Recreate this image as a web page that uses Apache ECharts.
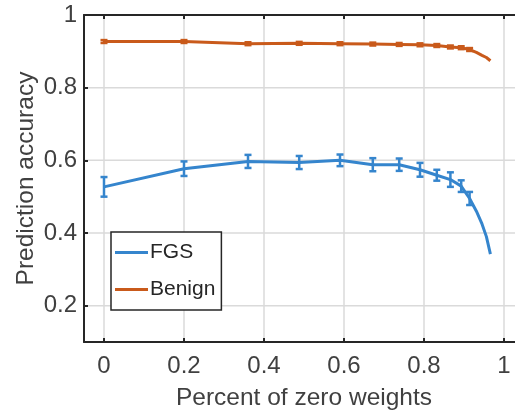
<!DOCTYPE html>
<html>
<head>
<meta charset="utf-8">
<script src="https://cdn.jsdelivr.net/npm/echarts@6/dist/echarts.min.js"></script>
<style>
  html, body { margin: 0; padding: 0; background: #fff; }
  #chart { width: 515px; height: 412px; }
</style>
</head>
<body>
<div id="chart"></div>
<script>
// percent of zero weights
const xs = [0, 0.2, 0.36, 0.488, 0.59, 0.672, 0.738, 0.79, 0.832, 0.866, 0.893, 0.914, 0.931, 0.945, 0.956, 0.966];
const fgs = [0.527, 0.577, 0.597, 0.594, 0.6, 0.588, 0.588, 0.574, 0.559, 0.547, 0.529, 0.495, 0.46, 0.425, 0.39, 0.342];
const fgsErr = [0.027, 0.02, 0.018, 0.018, 0.016, 0.018, 0.017, 0.019, 0.015, 0.02, 0.016, 0.018, null, null, null, null];
const benign = [0.927, 0.927, 0.921, 0.922, 0.921, 0.92, 0.919, 0.918, 0.916, 0.912, 0.91, 0.905, 0.897, 0.889, 0.883, 0.874];
const benignErr = [0.004, 0.004, 0.004, 0.004, 0.004, 0.004, 0.004, 0.004, 0.004, 0.004, 0.004, 0.004, null, null, null, null];
const xTicks = [0, 0.2, 0.4, 0.6, 0.8, 1];
const yTicks = [0.2, 0.4, 0.6, 0.8, 1];

const BLUE = "#3585cd";
const ORANGE = "#c95a1b";
const INK = "#262626";
const GRIDC = "#dadada";
const FONT = "Liberation Sans, Arial, sans-serif";

function pairs(ys) {
  return xs.map((x, i) => [x, ys[i]]);
}

function errData(ys, errs) {
  const out = [];
  xs.forEach((x, i) => {
    if (errs[i] != null) out.push([x, ys[i] - errs[i], ys[i] + errs[i]]);
  });
  return out;
}

function errSeries(ys, errs, color) {
  return {
    type: "custom",
    silent: true,
    z: 4,
    data: errData(ys, errs),
    renderItem(params, api) {
      const lo = api.coord([api.value(0), api.value(1)]);
      const hi = api.coord([api.value(0), api.value(2)]);
      const w = 3.5;
      const style = { stroke: color, lineWidth: 2.5, fill: null };
      return {
        type: "group",
        children: [
          { type: "line", shape: { x1: lo[0], y1: lo[1], x2: hi[0], y2: hi[1] }, style },
          { type: "line", shape: { x1: lo[0] - w, y1: lo[1], x2: lo[0] + w, y2: lo[1] }, style },
          { type: "line", shape: { x1: hi[0] - w, y1: hi[1], x2: hi[0] + w, y2: hi[1] }, style }
        ]
      };
    }
  };
}

// horizontal grid lines at the labelled y ticks (axis ticks start at min=0.1)
function hGridSeries() {
  return {
    type: "custom",
    silent: true,
    z: 0,
    data: yTicks.filter(v => v < 1).map(v => [v]),
    renderItem(params, api) {
      const p = api.coord([0, api.value(0)]);
      const cs = params.coordSys;
      return {
        type: "line",
        shape: { x1: cs.x, y1: p[1], x2: cs.x + cs.width, y2: p[1] },
        style: { stroke: GRIDC, lineWidth: 1.5 }
      };
    },
    encode: { y: 0 }
  };
}

const chart = echarts.init(document.getElementById("chart"));

const xCommon = {
  type: "value",
  min: -0.05,
  max: 1.05,
  axisLine: { show: true, onZero: false, lineStyle: { color: INK, width: 2 } },
  axisTick: {
    show: true, inside: true, length: 4, lineStyle: { color: INK, width: 2 },
    customValues: xTicks
  },
  splitLine: { show: false }
};

chart.setOption({
  animation: false,
  textStyle: { fontFamily: FONT },
  grid: { left: 84, right: -9, top: 15, bottom: 70, outerBoundsMode: "none", containLabel: false },
  xAxis: [
    {
      ...xCommon,
      position: "bottom",
      axisLabel: {
        color: "#404040", fontSize: 24, margin: 12,
        customValues: xTicks,
        formatter: v => String(+v.toFixed(1))
      },
      splitLine: { show: true, lineStyle: { color: GRIDC, width: 1.5 } },
      name: "Percent of zero weights",
      nameLocation: "middle",
      nameGap: 44,
      nameMoveOverlap: false,
      nameTextStyle: { color: "#404040", fontSize: 24.5, fontFamily: FONT }
    },
    {
      ...xCommon,
      position: "top",
      axisLabel: { show: false }
    }
  ],
  yAxis: {
    type: "value",
    min: 0.1,
    max: 1,
    axisLine: { show: true, onZero: false, lineStyle: { color: INK, width: 2 } },
    axisTick: {
      show: true, inside: true, length: 4, lineStyle: { color: INK, width: 2 },
      customValues: yTicks
    },
    axisLabel: {
      color: "#404040", fontSize: 24, margin: 7,
      customValues: yTicks,
      formatter: v => String(+v.toFixed(1))
    },
    splitLine: { show: false },
    name: "Prediction accuracy",
    nameLocation: "middle",
    nameGap: 45,
    nameMoveOverlap: false,
    nameTextStyle: { color: "#404040", fontSize: 24.5, fontFamily: FONT }
  },
  legend: {
    orient: "vertical",
    left: 111,
    top: 232,
    padding: [10, 6, 10, 4],
    itemGap: 16,
    itemWidth: 33,
    itemHeight: 3,
    icon: "rect",
    backgroundColor: "#fff",
    borderColor: INK,
    borderWidth: 1.5,
    borderRadius: 0,
    textStyle: { color: INK, fontSize: 21, fontFamily: FONT, padding: [0, 0, 0, -3] },
    data: ["FGS", "Benign"]
  },
  series: [
    hGridSeries(),
    {
      name: "FGS",
      type: "line",
      data: pairs(fgs),
      symbol: "none",
      lineStyle: { color: BLUE, width: 3 },
      itemStyle: { color: BLUE },
      z: 3
    },
    {
      name: "Benign",
      type: "line",
      data: pairs(benign),
      symbol: "none",
      lineStyle: { color: ORANGE, width: 3 },
      itemStyle: { color: ORANGE },
      z: 3
    },
    errSeries(fgs, fgsErr, BLUE),
    errSeries(benign, benignErr, ORANGE)
  ]
});
</script>
</body>
</html>
